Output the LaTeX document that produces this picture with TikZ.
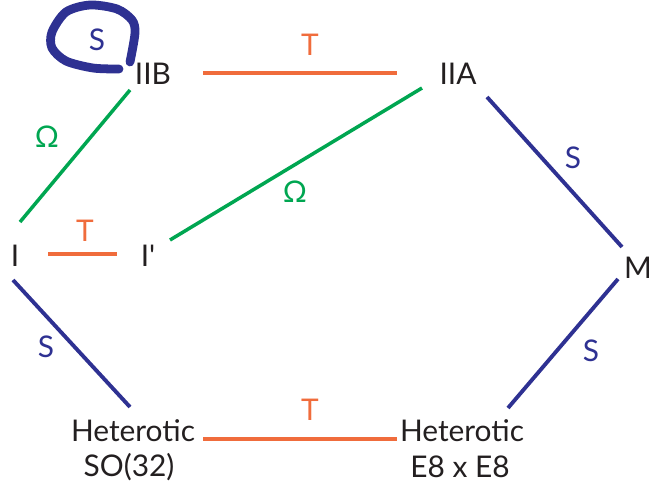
\documentclass[tikz,border=0pt]{standalone}
\usepackage{fontspec}
\setmainfont{Lato}
\usepackage{tikz}
\definecolor{sblue}{RGB}{46,49,146}
\definecolor{omgreen}{RGB}{0,166,81}
\definecolor{torange}{RGB}{240,108,60}
\definecolor{txtgray}{RGB}{35,31,32}

\begin{document}
\begin{tikzpicture}[x=0.02cm,y=-0.02cm,
  every node/.style={font=\fontsize{17}{20}\selectfont,text=txtgray,inner sep=0pt},
  sline/.style={draw=sblue,line width=2.2pt},
  omline/.style={draw=omgreen,line width=2pt},
  tline/.style={draw=torange,line width=1.8pt},
  slabel/.style={text=sblue},
  omlabel/.style={text=omgreen},
  tlabel/.style={text=torange}]
\useasboundingbox (0,0) rectangle (653,487);
\node (IIB) at (153,74) {IIB};
\node (IIA) at (458,74) {IIA};
\node (I) at (15,256) {I};
\node (Ip) at (148,256) {I\textquotesingle};
\node (M) at (638,268) {M};
\node (hso) at (133,431) {Heterotic};
\node (so32) at (129,467) {SO(32)};
\node (hee) at (462,431) {Heterotic};
\node (e8e8) at (460,467) {E8 x E8};
\draw[tline] ([shift={(50,-1)}]IIB.center) -- ([shift={(-61,-1)}]IIA.center);
\draw[tline] ([shift={(33,-2)}]I.center) -- ([shift={(-31,-2)}]Ip.center);
\draw[tline] ([shift={(70,8)}]hso.center) -- ([shift={(-65,8)}]hee.center);
\draw[omline] ([shift={(-23,16)}]IIB.center) -- ([shift={(5,-34)}]I.center);
\draw[omline] ([shift={(-36,14)}]IIA.center) -- ([shift={(22,-16)}]Ip.center);
\draw[sline] ([shift={(29,23)}]IIA.center) -- ([shift={(-16,-21)}]M.center);
\draw[sline] ([shift={(-20,11)}]M.center) -- ([shift={(46,-23)}]hee.center);
\draw[sline] ([shift={(-2,24)}]I.center) -- ([shift={(-3,-24)}]hso.center);
\draw[sblue,line width=5pt,line cap=round] plot[smooth] coordinates {(130,62) (135,33) (132,20) (117,9) (90,5) (66,12) (52,32) (52,48) (66,61) (93,68) (119,69)};
\node[tlabel] (t1) at (310,45) {T};
\node[tlabel] (t2) at (85,231) {T};
\node[tlabel] (t3) at (310,410) {T};
\node[omlabel] (om1) at (47,137) {Ω};
\node[omlabel] (om2) at (295,192) {Ω};
\node[slabel] (s0) at (97,40) {S};
\node[slabel] (s1) at (573,158) {S};
\node[slabel] (s2) at (591,351) {S};
\node[slabel] (s3) at (46,347) {S};
\end{tikzpicture}
\end{document}
